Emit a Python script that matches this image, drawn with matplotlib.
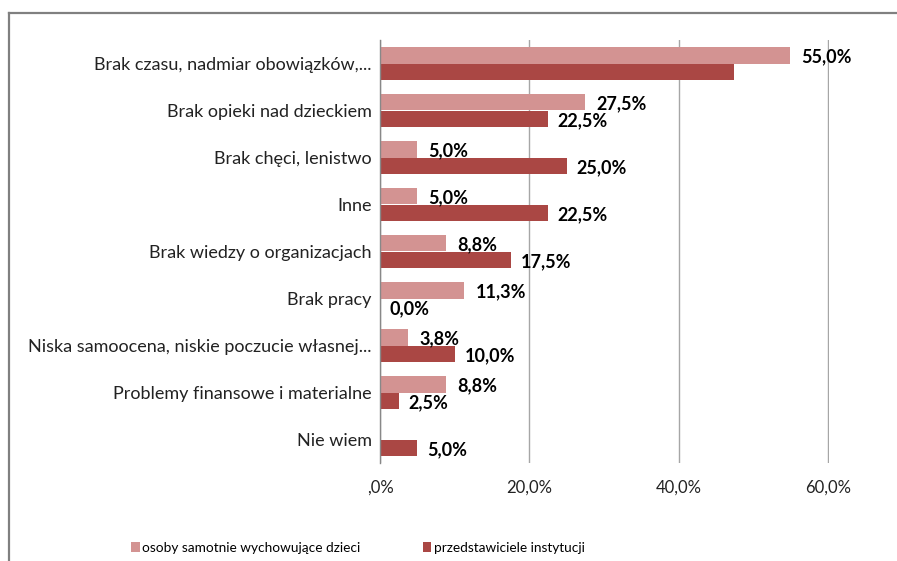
import matplotlib
matplotlib.use("Agg")
import matplotlib.pyplot as plt
import numpy as np

# Categories from top to bottom
CATEGORIES = [
    "Brak czasu, nadmiar obowiązków,...",
    "Brak opieki nad dzieckiem",
    "Brak chęci, lenistwo",
    "Inne",
    "Brak wiedzy o organizacjach",
    "Brak pracy",
    "Niska samoocena, niskie poczucie własnej...",
    "Problemy finansowe i materialne",
    "Nie wiem",
]
SINGLE_PARENTS = [55.0, 27.5, 5.0, 5.0, 8.8, 11.3, 3.8, 8.8, 0.0]
INSTITUTIONS = [47.5, 22.5, 25.0, 22.5, 17.5, 0.0, 10.0, 2.5, 5.0]
# which bars carry a data label in the original
SINGLE_LABELED = [True, True, True, True, True, True, True, True, False]
INST_LABELED = [False, True, True, True, True, True, True, True, True]
SERIES_NAMES = ["osoby samotnie wychowujące dzieci", "przedstawiciele instytucji"]
X_TICKS = [0, 20, 40, 60]
X_TICK_LABELS = [",0%", "20,0%", "40,0%", "60,0%"]

LIGHT = "#D39392"
DARK = "#AA4744"
FONT = "Lato"

plt.rcParams["font.family"] = [FONT, "DejaVu Sans"]

fig = plt.figure(figsize=(8.97, 5.61), dpi=100)
ax = fig.add_axes([380 / 897, 1 - 463 / 561, (828.5 - 380) / 897, (463 - 40) / 561])

n = len(CATEGORIES)
y = np.arange(n)
h = 0.36

ax.barh(y - h / 2, SINGLE_PARENTS, height=h, color=LIGHT, label=SERIES_NAMES[0], zorder=2)
ax.barh(y + h / 2, INSTITUTIONS, height=h, color=DARK, label=SERIES_NAMES[1], zorder=2)

def fmt(v):
    return f"{v:.1f}%".replace(".", ",")

for i in range(n):
    if SINGLE_LABELED[i]:
        ax.annotate(fmt(SINGLE_PARENTS[i]), (SINGLE_PARENTS[i], y[i] - h / 2),
                    xytext=(8, -1), textcoords="offset points", ha="left", va="center",
                    fontsize=13, fontweight="bold", color="black", zorder=3,
                    annotation_clip=False)
    if INST_LABELED[i]:
        ax.annotate(fmt(INSTITUTIONS[i]), (INSTITUTIONS[i], y[i] + h / 2),
                    xytext=(7, -1), textcoords="offset points", ha="left", va="center",
                    fontsize=13, fontweight="bold", color="black", zorder=3,
                    annotation_clip=False)

ax.set_xlim(0, 60.1)
ax.set_ylim(n - 0.5, -0.5)
ax.set_xticks(X_TICKS)
ax.set_xticklabels(X_TICK_LABELS, fontsize=12, color="#222222")
ax.set_yticks(y)
ax.set_yticklabels(CATEGORIES, fontsize=13, color="#222222")
ax.tick_params(axis="both", length=0)
ax.tick_params(axis="x", pad=12)
ax.tick_params(axis="y", pad=6)

ax.xaxis.grid(True, color="#A6A6A6", linewidth=1, zorder=0)
for s in ["top", "right", "bottom"]:
    ax.spines[s].set_visible(False)
ax.spines["left"].set_color("#888888")
ax.spines["left"].set_linewidth(1)

fig.legend(loc="center left", bbox_to_anchor=(126 / 897, 1 - 548 / 561), ncol=2,
           frameon=False, handlelength=0.6, handleheight=0.8,
           handletextpad=0.2, columnspacing=4.6, borderaxespad=0,
           prop={"family": [FONT], "size": 9.8})

# chart area border (only top and left are visible in the original crop)
fig.add_artist(plt.Line2D([8.5 / 897, 1], [1 - 13 / 561, 1 - 13 / 561],
                          color="#808080", linewidth=1.6, transform=fig.transFigure))
fig.add_artist(plt.Line2D([8.5 / 897, 8.5 / 897], [0, 1 - 13 / 561],
                          color="#808080", linewidth=1.6, transform=fig.transFigure))

fig.savefig("out.png", dpi=100)
